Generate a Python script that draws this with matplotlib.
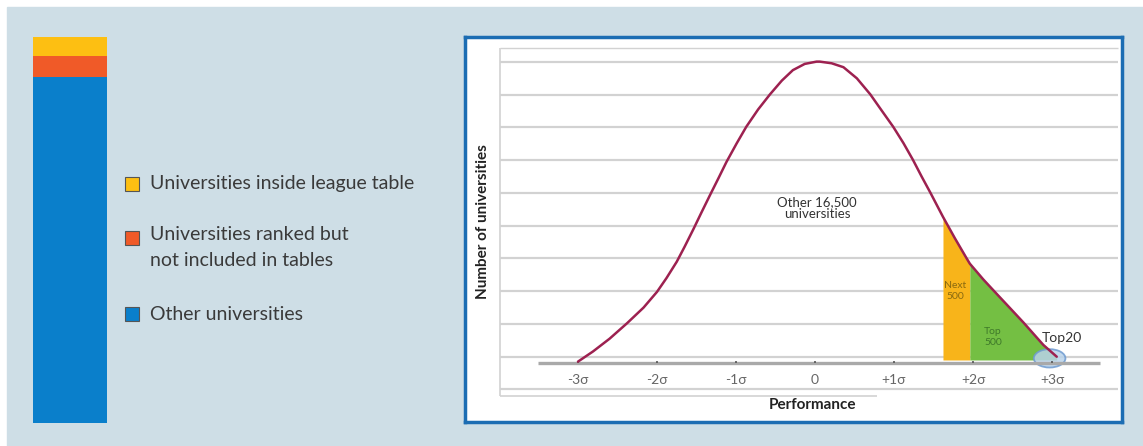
import numpy as np
import matplotlib
matplotlib.use('Agg')
import matplotlib.pyplot as plt
from matplotlib.patches import Rectangle, Ellipse

plt.rcParams['font.family'] = ['Lato', 'DejaVu Sans']

# ---- data ----
# left stacked bar (share of all universities, %)
bar_labels = ['Other universities', 'Universities ranked but\nnot included in tables', 'Universities inside league table']
bar_values = [89.6, 5.3, 5.0]
bar_colors = ['#0a7fcb', '#f05a28', '#fdbf12']

# bell curve: performance (sigma) vs number of universities (grid units)
perf = [-3.00, -2.81, -2.60, -2.38, -2.17, -2.00, -1.88, -1.75, -1.65, -1.54, -1.44, -1.33,
        -1.22, -1.12, -0.99, -0.87, -0.72, -0.57, -0.42, -0.28, -0.13, 0.02, 0.06, 0.21,
        0.36, 0.53, 0.70, 0.84, 0.99, 1.12, 1.24, 1.35, 1.46, 1.62, 1.77, 1.92, 1.96,
        2.13, 2.28, 2.47, 2.64, 2.89, 3.06]
count = [-0.15, 0.16, 0.55, 1.02, 1.50, 1.98, 2.40, 2.90, 3.36, 3.89, 4.39, 4.93,
         5.46, 5.95, 6.52, 7.02, 7.55, 8.01, 8.43, 8.75, 8.94, 9.01, 9.01, 8.96,
         8.84, 8.50, 8.01, 7.53, 7.02, 6.52, 6.01, 5.50, 5.01, 4.27, 3.62, 3.00, 2.84,
         2.36, 1.97, 1.48, 1.04, 0.36, 0.00]
next500 = (1.62, 1.96)
top500 = (1.96, 3.06)
sigma_ticks = [-3, -2, -1, 0, 1, 2, 3]
sigma_labels = ['-3σ', '-2σ', '-1σ', '0', '+1σ', '+2σ', '+3σ']

W, H = 1143, 446
fig = plt.figure(figsize=(W / 100, H / 100), dpi=100, facecolor='white')

def rect(x0, y0, x1, y1):
    # pixel box (top-left origin) -> figure fraction
    return [x0 / W, 1 - y1 / H, (x1 - x0) / W, (y1 - y0) / H]

# background panel
bg = fig.add_axes([0, 0, 1, 1])
bg.set_xlim(0, W); bg.set_ylim(H, 0); bg.axis('off')
bg.add_patch(Rectangle((7, 7), W, H, color='#cedee6'))

# ---- stacked bar ----
axb = fig.add_axes(rect(33, 37, 107, 423))
bottom = 0
for v, c in zip(bar_values, bar_colors):
    axb.bar(0, v, bottom=bottom, width=1, color=c)
    bottom += v
axb.set_xlim(-0.5, 0.5); axb.set_ylim(0, sum(bar_values))
axb.axis('off')

# legend (drawn by hand to match the layout)
leg_y = [184, 237.5, 314]
for lab, c, y in zip(bar_labels[::-1], bar_colors[::-1], leg_y):
    bg.add_patch(Rectangle((125, y - 7), 14, 14, facecolor=c, edgecolor='#555555', lw=0.8))
    if '\n' in lab:
        bg.text(150, y - 11.5, lab, fontsize=14, color='#3a3a3a', va='top', linespacing=1.65)
    else:
        bg.text(150, y, lab, fontsize=14, color='#3a3a3a', va='center')

# ---- bell curve panel ----
ax = fig.add_axes(rect(465, 37, 1122, 422))
ax.set_facecolor('white')
px2s = lambda px: (px - 815) / 79.0
px2c = lambda py: (356.7 - py) / 32.75
ax.set_xlim(px2s(465), px2s(1122))
ax.set_ylim(px2c(422), px2c(37))
for s in ax.spines.values():
    s.set_color('#1c6db3'); s.set_linewidth(2.5)
ax.set_xticks([]); ax.set_yticks([])

gl = '#d2d2d2'
ax.hlines(range(-1, 10), px2s(500), px2s(1118), color=gl, lw=1.6, zorder=1)
ax.hlines(px2c(48), px2s(500), px2s(1118), color=gl, lw=1.0, zorder=1)
ax.hlines(px2c(396), px2s(500), px2s(877), color=gl, lw=1.2, zorder=1)
ax.vlines(px2s(500), px2c(396), px2c(48), color=gl, lw=1.2, zorder=1)

x = np.array(perf); y = np.array(count)
base = px2c(360)
ax.fill_between(x, y, base, where=(x >= next500[0]) & (x <= next500[1]), color='#f8b41a', lw=0, zorder=2)
ax.fill_between(x, y, base, where=(x >= top500[0]) & (x <= top500[1]), color='#74bf43', lw=0, zorder=2)
ax.add_patch(Ellipse((2.97, -0.05), 0.40, 0.56, facecolor='#b9d3ea', edgecolor='#6f9bd0',
                     lw=1.3, alpha=0.85, zorder=3))

ax.hlines(px2c(363.5), px2s(538), px2s(1100), color='#a9a9a9', lw=2.4, zorder=3)
ax.vlines(sigma_ticks, px2c(363.5), px2c(361), color='#555555', lw=1.2, zorder=4)
ax.plot(x, y, color='#9d2150', lw=1.8, zorder=5, solid_capstyle='round', solid_joinstyle='round')

for t, lab in zip(sigma_ticks, sigma_labels):
    ax.text(t, px2c(380), lab, ha='center', va='center', fontsize=10, color='#666666')

ax.text(px2s(817), px2c(208), 'Other 16,500\nuniversities', ha='center', va='center',
        fontsize=9.5, color='#333333', linespacing=1.05)
ax.text(px2s(955), px2c(291), 'Next\n500', ha='center', va='center', fontsize=7.5,
        color='#8a6a10', linespacing=1.4)
ax.text(px2s(993), px2c(337), 'Top\n500', ha='center', va='center', fontsize=7.5,
        color='#3f7a2a', linespacing=1.4)
ax.text(px2s(1062), px2c(338), 'Top20', ha='center', va='center', fontsize=10, color='#333333')
ax.text(px2s(812), px2c(405), 'Performance', ha='center', va='center', fontsize=11,
        fontweight='bold', color='#222222')
ax.text(px2s(483), px2c(222), 'Number of universities', ha='center', va='center', rotation=90,
        fontsize=11, fontweight='bold', color='#222222')

fig.savefig('out.png', dpi=100)
